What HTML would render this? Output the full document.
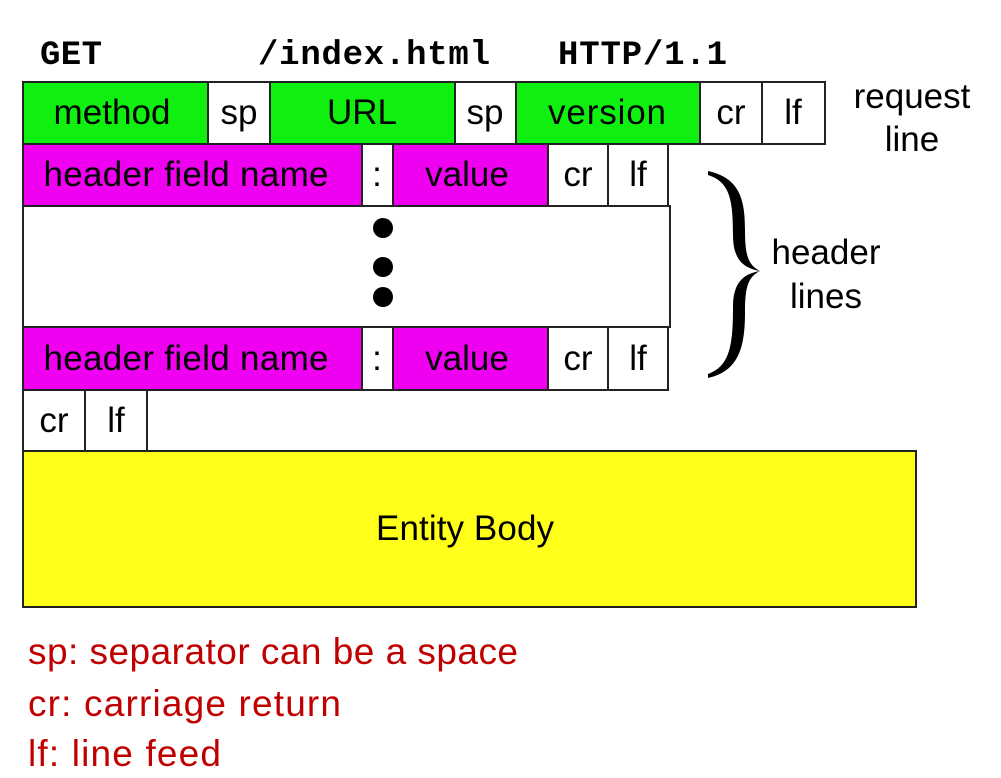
<!DOCTYPE html>
<html><head><meta charset="utf-8"><style>
html,body{margin:0;padding:0;background:#fff;}
svg{display:block;}
.c{font-family:"Liberation Sans",sans-serif;font-size:35px;fill:#000;text-anchor:middle;}
.m{font-family:"Liberation Mono",monospace;font-size:34px;font-weight:bold;fill:#000;}
.r{font-family:"Liberation Sans",sans-serif;font-size:37px;fill:#c00000;}
</style></head><body>
<svg width="1001" height="778" viewBox="0 0 1001 778" xmlns="http://www.w3.org/2000/svg">
<rect width="1001" height="778" fill="#fff"/>
<text class="m" x="40" y="64" textLength="62">GET</text>
<text class="m" x="258" y="64" textLength="232">/index.html</text>
<text class="m" x="558" y="64" textLength="169">HTTP/1.1</text>
<g stroke="#222" stroke-width="2">
<rect x="23" y="82" width="185" height="62" fill="#0ff010"/>
<rect x="208" y="82" width="62" height="62" fill="#fff"/>
<rect x="270" y="82" width="185" height="62" fill="#0ff010"/>
<rect x="455" y="82" width="61" height="62" fill="#fff"/>
<rect x="516" y="82" width="184" height="62" fill="#0ff010"/>
<rect x="700" y="82" width="62" height="62" fill="#fff"/>
<rect x="762" y="82" width="63" height="62" fill="#fff"/>

<rect x="23" y="206" width="647" height="121" fill="#fff"/>

<rect x="23" y="144" width="339" height="62" fill="#f000f0"/>
<rect x="362" y="144" width="31" height="62" fill="#fff"/>
<rect x="393" y="144" width="155" height="62" fill="#f000f0"/>
<rect x="548" y="144" width="60" height="62" fill="#fff"/>
<rect x="608" y="144" width="60" height="62" fill="#fff"/>

<rect x="23" y="327" width="339" height="63" fill="#f000f0"/>
<rect x="362" y="327" width="31" height="63" fill="#fff"/>
<rect x="393" y="327" width="155" height="63" fill="#f000f0"/>
<rect x="548" y="327" width="60" height="63" fill="#fff"/>
<rect x="608" y="327" width="60" height="63" fill="#fff"/>

<rect x="23" y="390" width="62" height="61" fill="#fff"/>
<rect x="85" y="390" width="62" height="61" fill="#fff"/>
<rect x="23" y="451" width="893" height="156" fill="#ffff1a"/>
</g>
<circle cx="383" cy="228" r="10" fill="#000"/>
<circle cx="383" cy="267" r="10" fill="#000"/>
<circle cx="383" cy="297" r="10" fill="#000"/>
<path d="M708,171 C740,178 745,200 745,230 C745,255 748,265 760,271 C742,268 733,258 733,235 C733,200 730,182 708,175 Z" fill="#000"/>
<path d="M708,378 C740,371 745,345 745,312 C745,287 748,277 760,271 C742,274 733,284 733,307 C733,345 730,366 708,374 Z" fill="#000"/>
<g class="c">
<text x="112" y="124" textLength="117">method</text>
<text x="239" y="124">sp</text>
<text x="362" y="124">URL</text>
<text x="485" y="124">sp</text>
<text x="607" y="124" textLength="118">version</text>
<text x="731" y="124">cr</text>
<text x="793" y="124">lf</text>
<text x="186" y="186" textLength="285">header field name</text>
<text x="377" y="186">:</text>
<text x="467" y="186">value</text>
<text x="578" y="186">cr</text>
<text x="638" y="186">lf</text>
<text x="186" y="370" textLength="285">header field name</text>
<text x="377" y="370">:</text>
<text x="467" y="370">value</text>
<text x="578" y="370">cr</text>
<text x="638" y="370">lf</text>
<text x="54" y="432">cr</text>
<text x="116" y="432">lf</text>
<text x="465" y="540" textLength="178">Entity Body</text>
<text x="912" y="108">request</text>
<text x="912" y="151">line</text>
<text x="826" y="264">header</text>
<text x="826" y="308">lines</text>
</g>
<text class="r" x="28" y="664" textLength="490">sp: separator can be a space</text>
<text class="r" x="28" y="716" textLength="313">cr: carriage return</text>
<text class="r" x="28" y="766" textLength="193">lf: line feed</text>
</svg>
</body></html>
